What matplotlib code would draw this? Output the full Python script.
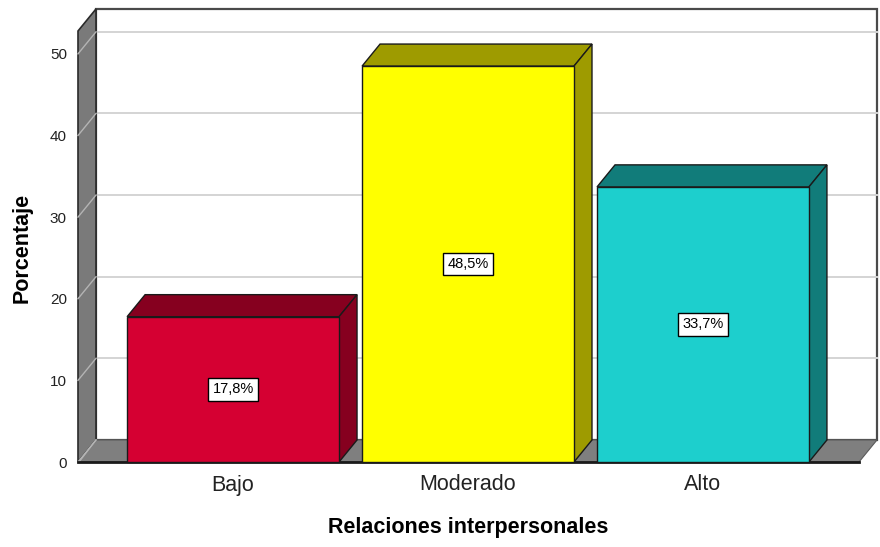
import matplotlib.pyplot as plt
from matplotlib.patches import Polygon, Rectangle

plt.rcParams['font.family'] = ['Liberation Sans', 'DejaVu Sans']

categorias = ["Bajo", "Moderado", "Alto"]
porcentajes = [17.8, 48.5, 33.7]
etiquetas = ["17,8%", "48,5%", "33,7%"]
cores_frente = ["#d50032", "#ffff00", "#1dcfcd"]
cores_sombra = ["#86001f", "#9e9b00", "#117c7a"]
ticks_y = [0, 10, 20, 30, 40, 50]

# geometria da caixa 3D (unidades de dados)
X0, X1 = -0.66, 2.664
YMAX = 52.8
DX, DY = 0.0766, 2.70
LARG = 0.902

fig = plt.figure(figsize=(8.8, 5.47), dpi=100, facecolor="white")
ax = fig.add_axes([78 / 880, 85 / 547, 781 / 880, 431 / 547])
ax.set_xlim(X0, X1)
ax.set_ylim(0, YMAX)
for s in ax.spines.values():
    s.set_visible(False)
ax.set_facecolor("none")

# parede do fundo
ax.add_patch(Rectangle((X0 + DX, DY), X1 - X0, YMAX, facecolor="white",
                       edgecolor="#4a4a4a", linewidth=1.6, clip_on=False, zorder=1))
for v in ticks_y[1:]:
    ax.plot([X0 + DX, X1 + DX], [v + DY, v + DY], color="#d4d4d4",
            linewidth=1.4, clip_on=False, zorder=2)

# parede lateral esquerda
ax.add_patch(Polygon([(X0, 0), (X0 + DX, DY), (X0 + DX, YMAX + DY), (X0, YMAX)],
                     closed=True, facecolor="#7a7a7a", edgecolor="#2a2a2a",
                     linewidth=1.2, clip_on=False, zorder=3))
for v in ticks_y:
    ax.plot([X0, X0 + DX], [v, v + DY], color="#b4b4b4", linewidth=1.0,
            clip_on=False, zorder=4)

# piso
ax.add_patch(Polygon([(X0, 0), (X1, 0), (X1 + DX, DY), (X0 + DX, DY)],
                     closed=True, facecolor="#7f7f7f", edgecolor="#5a5a5a",
                     linewidth=0.8, clip_on=False, zorder=3))
ax.plot([X0 + 0.004, X0 + DX], [0, DY], color="#b4b4b4", linewidth=1.0,
        clip_on=False, zorder=4)
ax.plot([X0, X1], [0, 0], color="#1a1a1a", linewidth=2.0, clip_on=False, zorder=4)

# barras
for i, (v, cf, cs) in enumerate(zip(porcentajes, cores_frente, cores_sombra)):
    a, b = i - LARG / 2, i + LARG / 2
    ax.add_patch(Polygon([(a, v), (a + DX, v + DY), (b + DX, v + DY), (b, v)],
                         closed=True, facecolor=cs, edgecolor="#1a1a1a",
                         linewidth=1.0, clip_on=False, zorder=5))
    ax.add_patch(Polygon([(b, 0), (b + DX, DY), (b + DX, v + DY), (b, v)],
                         closed=True, facecolor=cs, edgecolor="#1a1a1a",
                         linewidth=1.0, clip_on=False, zorder=5))
    ax.add_patch(Rectangle((a, 0), LARG, v, facecolor=cf, edgecolor="#1a1a1a",
                           linewidth=1.0, clip_on=False, zorder=6))
    ax.text(i, v / 2, etiquetas[i], ha="center", va="center", fontsize=10.5,
            color="black", zorder=7,
            bbox=dict(boxstyle="square,pad=0.3", facecolor="white",
                      edgecolor="black", linewidth=1.0))

ax.set_yticks(ticks_y)
ax.set_yticklabels([str(t) for t in ticks_y], fontsize=11, color="#222222")
ax.set_xticks(range(len(categorias)))
ax.set_xticklabels(categorias, fontsize=15.5, color="#222222")
ax.tick_params(axis="y", length=0, pad=8)
ax.tick_params(axis="x", length=0, pad=9)

fig.text(468 / 880, 1 - 528 / 547, "Relaciones interpersonales", ha="center",
         va="center", fontsize=15.5, fontweight="bold", color="black")
fig.text(22 / 880, 1 - 248 / 547, "Porcentaje", ha="center", va="center",
         rotation=90, fontsize=15.5, fontweight="bold", color="black")

fig.savefig("out.png", dpi=100, facecolor="white")
